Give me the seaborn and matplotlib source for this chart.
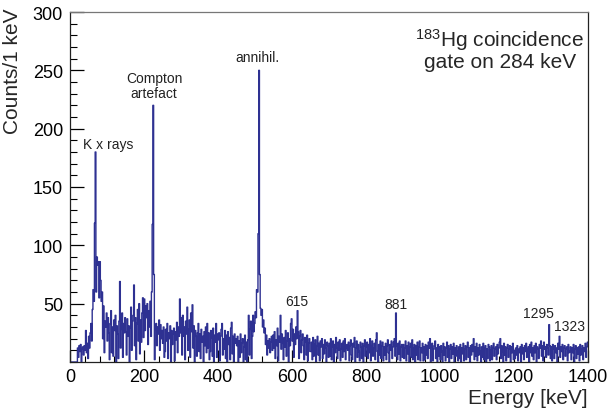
import numpy as np
import pandas as pd
import matplotlib
matplotlib.use("Agg")
import matplotlib.pyplot as plt
from matplotlib.ticker import MultipleLocator, FixedLocator
import seaborn as sns

# ---- data: counts per bin (2 keV bins from 0 to 1400 keV) ----
bin_width_keV = 2
counts_0_250 = [
    0,0,0,0,0,0,0,0,0,0, 12,4,14,9,15,0,11,13,6,14, 10,27,8,16,3,
    22,12,25,33,18,45,62,52,119,180,60,90,83,86,55,86,70,52,60,20,48,8,35,30,42,
    18,38,25,2,33,44,8,30,5,36,27,40,0,31,24,3,35,69,12,28,42,4,33,25,38,
    26,6,37,22,31,0,29,47,10,35,40,66,14,38,2,33,45,18,50,7,36,17,42,55,21,
    54,27,48,38,50,15,44,30,52,22,60,118,220,75,2,28,33,14,30,24,36,10,32,20,27,
]
counts_250_500 = [
    16,30,4,9,28,18,33,3,25,20,31,0,27,15,24,29,1,26,19,34,8,30,22,54,25,
    38,6,40,22,30,2,35,24,47,10,28,36,4,42,26,49,12,31,0,27,22,5,25,33,9,
    24,3,28,17,22,0,26,14,30,8,33,12,25,2,9,27,21,5,29,0,23,17,33,4,24,
    19,25,1,22,28,33,6,20,11,27,3,23,0,26,15,21,2,29,34,7,22,0,24,16,20,
    14,22,0,18,4,24,8,16,20,0,13,23,2,17,0,19,40,6,28,35,3,22,40,26,33,
]
counts_500_750 = [
    43,38,62,60,110,250,75,46,40,45,30,36,25,29,15,23,6,18,12,20,8,17,22,10,23,
    12,26,3,19,14,29,1,22,17,40,11,24,16,2,21,13,27,5,18,25,0,20,14,33,37,
    18,28,4,24,15,30,20,44,26,3,22,27,8,19,24,14,2,21,17,6,23,1,16,20,9,
    9,17,2,21,5,15,19,0,14,22,6,16,1,18,13,20,3,15,7,19,12,0,17,14,4,
    16,5,20,2,13,18,0,15,8,21,12,3,17,10,19,1,11,16,4,18,9,20,2,12,15,
]
counts_750_1000 = [
    10,17,1,14,19,6,2,16,13,21,0,12,18,4,15,9,1,17,13,3,16,0,14,19,5,
    13,17,3,15,8,20,1,14,18,5,12,16,2,19,25,9,0,15,6,18,3,14,17,1,13,
    6,16,2,14,19,8,0,15,10,18,3,13,17,20,5,42,14,2,16,7,18,1,13,15,4,
    15,3,12,18,1,14,7,17,0,13,16,4,19,2,12,15,0,14,6,17,2,13,18,1,12,
    8,16,1,13,2,15,6,14,3,17,12,20,0,13,16,1,11,14,18,3,12,0,15,5,13,
]
counts_1000_1200 = [
    2,14,9,0,16,6,13,1,12,17,4,14,0,11,15,3,13,7,16,0,12,5,14,9,1,
    13,3,15,0,12,7,16,1,11,14,2,13,17,4,12,0,14,6,15,9,20,2,13,5,16,
    1,12,6,15,9,0,13,4,16,2,12,14,0,11,3,15,13,1,10,14,2,12,16,5,11,
    13,2,15,7,12,17,20,3,14,9,0,16,6,13,1,12,15,4,11,14,0,13,8,16,2,
]
counts_1200_1400 = [
    10,3,12,6,14,1,11,8,13,0,15,7,12,2,14,9,16,4,11,13,0,15,8,17,5,
    12,2,14,8,16,0,13,11,3,15,12,18,5,14,1,17,11,13,4,15,12,6,32,14,3,
    13,1,15,11,3,14,8,12,0,16,11,22,4,13,9,15,2,12,14,5,11,13,1,15,8,
    9,13,2,12,8,15,0,11,14,3,12,7,13,1,15,6,11,14,2,12,9,16,4,13,17,
]
counts = (counts_0_250 + counts_250_500 + counts_500_750 +
          counts_750_1000 + counts_1000_1200 + counts_1200_1400)

x_ticks = [0, 200, 400, 600, 800, 1000, 1200, 1400]
y_ticks = [50, 100, 150, 200, 250, 300]
peak_labels = ["K x rays", "Compton\nartefact", "annihil.", "615", "881", "1295", "1323"]
peak_label_x = [34, 227, 506, 613, 880, 1265, 1350]
peak_label_y = [187, 237, 261, 52, 50, 42, 31]

energy = np.arange(len(counts)) * bin_width_keV + bin_width_keV / 2
df = pd.DataFrame({"energy": energy, "counts": counts})

# ---- style ----
sns.set_style("ticks")
plt.rcParams["font.family"] = ["Liberation Sans", "DejaVu Sans"]
plt.rcParams["mathtext.fontset"] = "custom"
plt.rcParams["mathtext.rm"] = "Liberation Sans"
plt.rcParams["mathtext.default"] = "regular"

fig = plt.figure(figsize=(6.11, 4.10), dpi=100)
ax = fig.add_axes([70 / 611, 1 - 363 / 410, 518 / 611, 350 / 410])

sns.histplot(data=df, x="energy", weights="counts", binwidth=bin_width_keV,
             binrange=(0, 1400), element="step", fill=False,
             color="#2e3192", linewidth=1.0, ax=ax)

ax.set_xlim(0, 1400)
ax.set_ylim(0, 300)
ax.xaxis.set_major_locator(FixedLocator(x_ticks))
ax.xaxis.set_minor_locator(MultipleLocator(40))
ax.yaxis.set_major_locator(FixedLocator(y_ticks))
ax.yaxis.set_minor_locator(MultipleLocator(10))
ax.tick_params(axis="both", which="both", direction="in", top=False, right=False,
               labelsize=13, colors="black")
ax.tick_params(axis="y", which="major", length=10, width=0.9, pad=5)
ax.tick_params(axis="y", which="minor", length=5, width=0.8)
ax.tick_params(axis="x", which="major", length=9, width=0.9, pad=4)
ax.tick_params(axis="x", which="minor", length=4.5, width=0.8)
for s in ax.spines.values():
    s.set_visible(True)
    s.set_color("#222222")
    s.set_linewidth(0.9)
ax.spines["top"].set_color("#777777")

ax.set_xlabel("Energy [keV]", fontsize=15, loc="right")
ax.xaxis.set_label_coords(1.0, -0.074)
ax.set_ylabel("Counts/1 keV", fontsize=15, loc="top")
ax.yaxis.set_label_coords(-0.092, 1.012)

for lab, lx, ly in zip(peak_labels, peak_label_x, peak_label_y):
    ha = "left" if lab == "K x rays" else "center"
    ax.text(lx, ly, lab, fontsize=10, ha=ha, va="center", color="#222222",
            linespacing=1.15)

ax.text(1162, 277, r"$^{183}$Hg coincidence", fontsize=15, ha="center", va="center")
ax.text(1162, 257.5, "gate on 284 keV", fontsize=15, ha="center", va="center")

fig.savefig("out.png", dpi=100)
